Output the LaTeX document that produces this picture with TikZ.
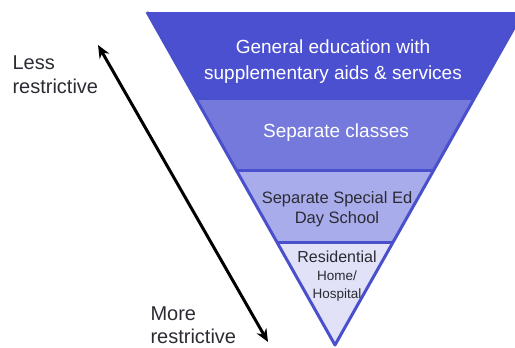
\documentclass[tikz,border=0pt]{standalone}
\usepackage{fontspec}
\setmainfont{Liberation Sans}
\usetikzlibrary{calc,arrows.meta}
\definecolor{bandA}{HTML}{4B50D0}
\definecolor{bandB}{HTML}{7479DB}
\definecolor{bandC}{HTML}{A9ACEB}
\definecolor{bandD}{HTML}{E1E2F8}
\definecolor{rim}{HTML}{4A50CC}
\definecolor{ink}{HTML}{2B2B33}
\def\band[#1](#2:#3){\fill[#1] ($(tl)!#2!(ap)$) -- ($(tr)!#2!(ap)$) -- ($(tr)!#3!(ap)$) -- ($(tl)!#3!(ap)$) -- cycle;}
\def\seam(#1){\draw[line width=3pt, color=rim] ($(tl)!#1!(ap)$) -- ($(tr)!#1!(ap)$);}

\begin{document}
\begin{tikzpicture}[x=1pt, y=-1pt]
			%%%%% START %%%%%
			\useasboundingbox (0, 0) rectangle (515, 348);
			
			\coordinate (tl) at (147, 12);
			\coordinate (tr) at (523, 12);
			\coordinate (ap) at (335, 345);
			
			\band[bandA](0:0.2583);
			\band[bandB](0.2583:0.4745);
			\band[bandC](0.4745:0.6907);
			\band[bandD](0.6907:1);
			
			\seam(0.2583);
			\seam(0.4745);
			\seam(0.6907);
			\draw[line width=3pt, color=rim, line join=round] (tl) -- (ap) -- (tr);
			
			\node[align=center, color=white, font=\fontsize{19}{26}\selectfont] (general) at (333, 62) {General education with\\supplementary aids \& services};
			\node[color=white, font=\fontsize{19}{23}\selectfont] (classes) at (336, 133) {Separate classes};
			\node[align=center, color=ink, font=\fontsize{16.5}{20}\selectfont] (dayschool) at (337, 209.5) {Separate Special Ed\\Day School};
			\node[align=center, color=ink, font=\fontsize{16}{18}\selectfont] (residential) at (337, 276) {Residential\\\fontsize{13.5}{17}\selectfont Home/\\\fontsize{13.5}{17}\selectfont Hospital};
			
			\node[align=left, anchor=west, color=ink, font=\fontsize{20}{24}\selectfont] (less) at (9, 75) {Less\\restrictive};
			\node[align=left, anchor=west, color=ink, font=\fontsize{20}{23}\selectfont] (more) at (147, 325) {More\\restrictive};
			
			\coordinate (top) at (98, 45);
			\coordinate (bottom) at (268, 342);
			\draw[line width=3pt, {Stealth[length=13pt, width=11pt]}-{Stealth[length=13pt, width=11pt]}] (top) -- (bottom);
			
			%%%%% END %%%%%
\end{tikzpicture}
\end{document}
